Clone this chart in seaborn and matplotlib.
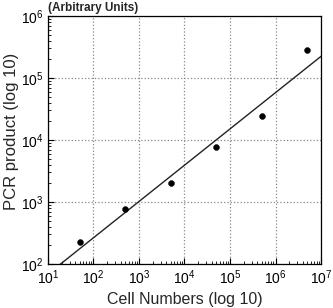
import numpy as np
import pandas as pd
import matplotlib
matplotlib.use("Agg")
import matplotlib.pyplot as plt
import seaborn as sns
from matplotlib.ticker import LogLocator, LogFormatterMathtext, NullFormatter

cells = [50, 500, 5000, 50000, 500000, 5000000]
pcr = [230, 770, 2000, 7600, 24000, 280000]

sns.set_theme(style="ticks")
plt.rcParams['font.family'] = ['Liberation Sans', 'DejaVu Sans']
plt.rcParams['mathtext.fontset'] = 'custom'
plt.rcParams['mathtext.rm'] = 'Liberation Sans'

df = pd.DataFrame({"cells": cells, "pcr": pcr})

fig = plt.figure(figsize=(3.33, 3.08), dpi=100)
ax = fig.add_axes([0.144, 0.143, 0.820, 0.805])

# regression line in log-log space
coef = np.polyfit(np.log10(cells), np.log10(pcr), 1)
lx = np.linspace(1, 7, 200)
ly = 10 ** np.polyval(coef, lx)
line_df = pd.DataFrame({"x": 10 ** lx, "y": ly})
sns.lineplot(data=line_df, x="x", y="y", ax=ax, color="#222222", lw=1.0)
sns.scatterplot(data=df, x="cells", y="pcr", ax=ax, color="black", s=18,
                edgecolor="black", zorder=5)

ax.set_xscale("log")
ax.set_yscale("log")
ax.set_xlim(10, 1e7)
ax.set_ylim(100, 1e6)

ax.xaxis.set_major_locator(LogLocator(base=10, numticks=10))
ax.yaxis.set_major_locator(LogLocator(base=10, numticks=10))
ax.xaxis.set_minor_locator(LogLocator(base=10, subs=np.arange(2, 10), numticks=20))
ax.yaxis.set_minor_locator(LogLocator(base=10, subs=np.arange(2, 10), numticks=20))
ax.xaxis.set_major_formatter(LogFormatterMathtext())
ax.yaxis.set_major_formatter(LogFormatterMathtext())
ax.xaxis.set_minor_formatter(NullFormatter())
ax.yaxis.set_minor_formatter(NullFormatter())

ax.grid(True, which="major", color="#888888", linestyle=":", linewidth=0.9)
ax.tick_params(which="both", direction="in", colors="black", labelsize=10)
ax.tick_params(which="major", length=4, width=0.8, pad=3)
ax.tick_params(which="minor", length=2, width=0.6)
for s in ax.spines.values():
    s.set_color("black")
    s.set_linewidth(0.9)

ax.set_xlabel("Cell Numbers (log 10)", fontsize=11.5, labelpad=4)
ax.set_ylabel("PCR product (log 10)", fontsize=12)
ax.yaxis.set_label_coords(-0.105, 0.535)
ax.text(0.0, 1.01, "(Arbitrary Units)", transform=ax.transAxes, fontsize=8.5,
        fontweight="bold", ha="left", va="bottom")

fig.savefig("out.png", dpi=100)
